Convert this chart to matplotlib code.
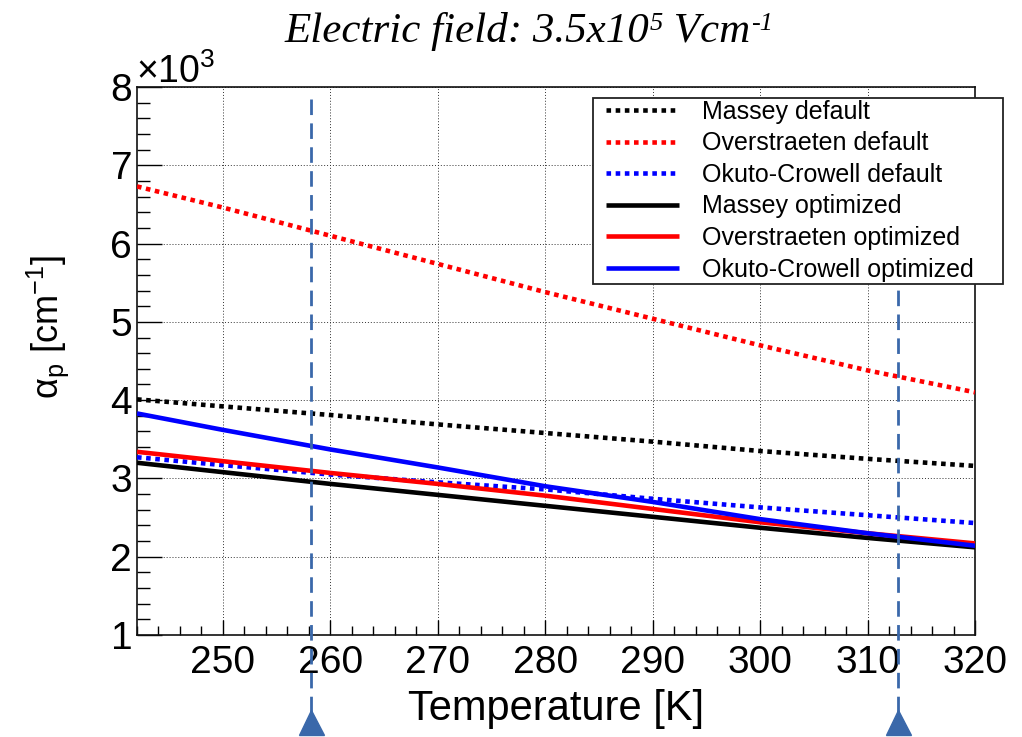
import matplotlib
matplotlib.use("Agg")
import matplotlib.pyplot as plt
from matplotlib.patches import Rectangle
from matplotlib.ticker import MultipleLocator
from matplotlib.transforms import blended_transform_factory

plt.rcParams['font.family'] = ['Liberation Sans', 'DejaVu Sans']
plt.rcParams['mathtext.fontset'] = 'custom'
plt.rcParams['mathtext.rm'] = 'Liberation Sans'
plt.rcParams['mathtext.it'] = 'Liberation Sans:italic'
plt.rcParams['mathtext.bf'] = 'Liberation Sans:bold'

# ---- data (alpha_p in cm^-1) ----
temperature = [242, 250, 260, 270, 280, 290, 300, 310, 320]
massey_default = [4010, 3920, 3810, 3690, 3580, 3470, 3350, 3250, 3160]
overstraeten_default = [6730, 6460, 6100, 5740, 5380, 5040, 4700, 4380, 4100]
okuto_default = [3270, 3170, 3050, 2950, 2860, 2740, 2630, 2530, 2430]
massey_optimized = [3200, 3080, 2930, 2790, 2650, 2510, 2370, 2240, 2120]
overstraeten_optimized = [3340, 3220, 3070, 2930, 2780, 2610, 2440, 2300, 2170]
okuto_optimized = [3830, 3620, 3370, 3140, 2900, 2700, 2480, 2300, 2140]
marker_temps = [258.2, 312.8]

series = [
    ("Massey default", massey_default, "#000000", "dot"),
    ("Overstraeten default", overstraeten_default, "#ff0000", "dot"),
    ("Okuto-Crowell default", okuto_default, "#0000ff", "dot"),
    ("Massey optimized", massey_optimized, "#000000", "solid"),
    ("Overstraeten optimized", overstraeten_optimized, "#ff0000", "solid"),
    ("Okuto-Crowell optimized", okuto_optimized, "#0000ff", "solid"),
]

W, H = 1022, 737
fig = plt.figure(figsize=(W / 100, H / 100), dpi=100)
L, R, T, B = 137, 975, 87, 635
ax = fig.add_axes([L / W, 1 - B / H, (R - L) / W, (B - T) / H])

handles = []
for label, vals, col, sty in series:
    ls = (0, (1, 1)) if sty == "dot" else "-"
    ln, = ax.plot(temperature, [v / 1000 for v in vals], color=col, lw=3.3,
                  linestyle=ls, label=label, zorder=3,
                  dash_capstyle='butt', solid_capstyle='butt')
    handles.append(ln)

ax.set_xlim(242, 320)
ax.set_ylim(1, 8)
ax.xaxis.set_major_locator(MultipleLocator(10))
ax.xaxis.set_minor_locator(MultipleLocator(2))
ax.yaxis.set_major_locator(MultipleLocator(1))
ax.yaxis.set_minor_locator(MultipleLocator(0.2))
ax.grid(which='major', linestyle=(0, (1, 2)), color='#333333', lw=0.7, zorder=1)
ax.set_axisbelow(True)

ax.tick_params(axis='x', which='major', direction='in', length=11, width=1,
               labelsize=28, pad=7)
ax.tick_params(axis='x', which='minor', direction='in', length=6.5, width=1)
ax.tick_params(axis='y', which='major', direction='in', length=18, width=1,
               labelsize=28, pad=3.5)
ax.tick_params(axis='y', which='minor', direction='in', length=9, width=1)
for s in ax.spines.values():
    s.set_linewidth(1.2)
    s.set_color('#111111')

ax.set_xlabel('Temperature [K]', fontsize=30)
ax.xaxis.set_label_coords(0.5, (B - 720) / (B - T))
ax.xaxis.label.set_va('baseline')

ax.set_ylabel('α$_{\\mathrm{p}}$ [cm$^{\\mathrm{-1}}$]', fontsize=26)
ax.yaxis.set_label_coords((48 - L) / (R - L), (B - 327) / (B - T))
ax.yaxis.label.set_va('center')
ax.yaxis.label.set_ha('center')

# multiplier label
fig.text(136 / W, (H - 83) / H, '×10$^{3}$', fontsize=27, ha='left', va='baseline')

# title built from pieces (normal text + small superscripts)
renderer = fig.canvas.get_renderer()
title_pieces = [("Electric field: 3.5x10", False), ("5", True),
                (" Vcm", False), ("-1", True)]
base_px = 42
sup_raise = 12
tobjs = []
x = 0.0
for s, sup in title_pieces:
    t = fig.text(x / W, (H - base_px + (sup_raise if sup else 0)) / H, s,
                 family='Liberation Serif', style='italic',
                 fontsize=19 if sup else 31, ha='left', va='baseline')
    ext = t.get_window_extent(renderer)
    tobjs.append((t, x))
    x = ext.x1 + (1 if sup else 0)
total = x
x0 = 529 - total / 2
for t, xo in tobjs:
    px, py = t.get_position()
    t.set_position(((xo + x0) / W, py))

# vertical dashed markers with triangles
trans = blended_transform_factory(ax.transData, fig.transFigure)
mcol = '#3a68aa'
for xt in marker_temps:
    ax.plot([xt, xt], [(H - 99) / H, (H - 712) / H], transform=trans,
            clip_on=False, color=mcol, lw=2, linestyle=(0, (5.6, 3)), zorder=6)
    ax.plot([xt], [(H - 722) / H], transform=trans, clip_on=False,
            marker='^', ms=18, color=mcol, mec=mcol, zorder=6)

# legend box
box = Rectangle((593 / W, 1 - 284 / H), 410 / W, 186 / H, transform=fig.transFigure,
                facecolor='white', edgecolor='#222222', lw=1.3, zorder=3)
fig.add_artist(box)
leg = fig.legend(handles=handles, loc='upper left',
                 bbox_to_anchor=(606 / W, 1 - 100 / H), bbox_transform=fig.transFigure,
                 frameon=False, borderaxespad=0, borderpad=0, fontsize=18,
                 handlelength=2.9, handletextpad=0.95, labelspacing=0.3)
leg.set_zorder(4)

fig.savefig('out.png', dpi=100)
